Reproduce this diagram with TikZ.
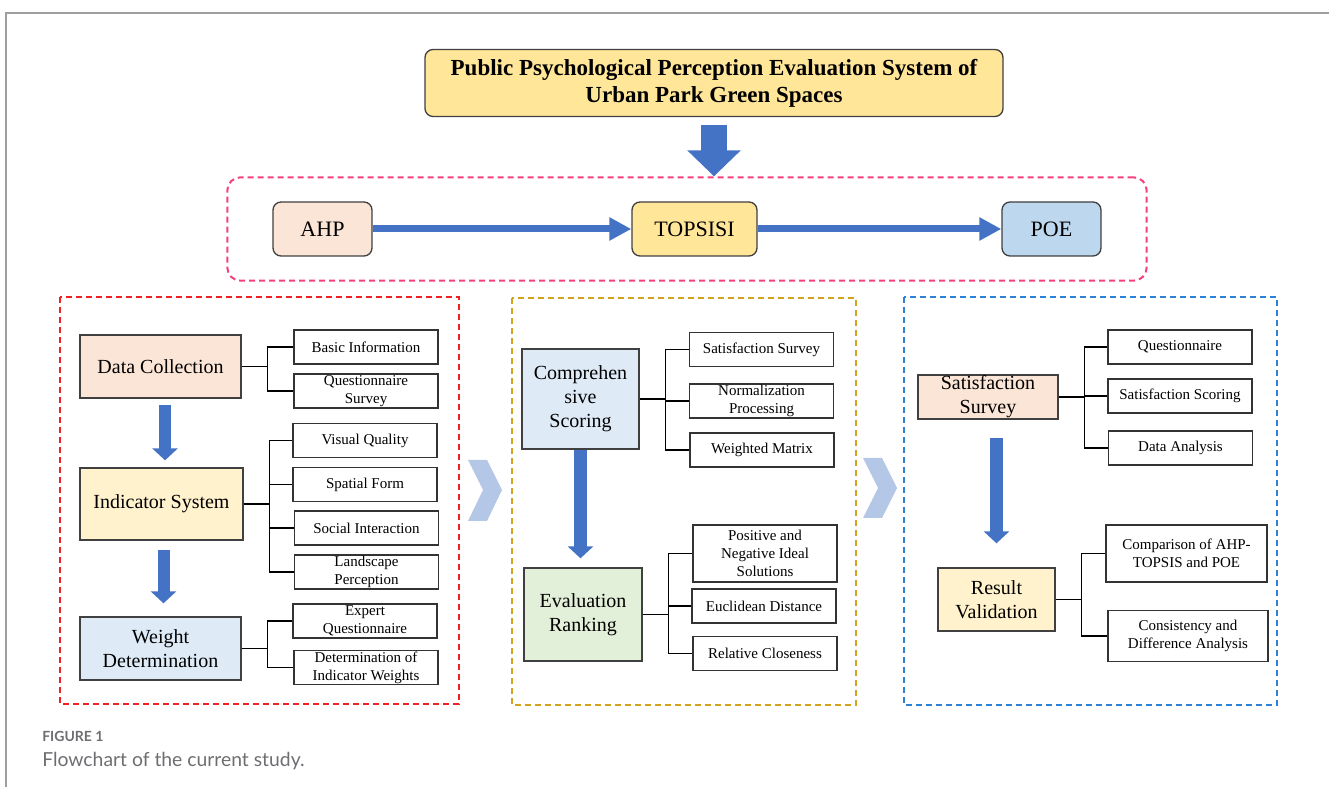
\documentclass[tikz,border=0pt]{standalone}
\usepackage{fontspec}
\setmainfont{Liberation Serif}
\newfontfamily\capfont{Lato}
\usetikzlibrary{fit,positioning,arrows.meta,calc}
\definecolor{hdyellow}{HTML}{FFE699}
\definecolor{peach}{HTML}{FBE5D6}
\definecolor{paleyellow}{HTML}{FFF2CC}
\definecolor{paleblue}{HTML}{DEEBF7}
\definecolor{midblue}{HTML}{BDD7EE}
\definecolor{palegreen}{HTML}{E2F0D9}
\definecolor{arrblue}{HTML}{4472C4}
\definecolor{chevblue}{HTML}{B4C7E7}
\definecolor{pinkline}{HTML}{F5407A}
\definecolor{redline}{HTML}{EE2222}
\definecolor{goldline}{HTML}{D4A21A}
\definecolor{blueline}{HTML}{2C82D6}
\definecolor{capgray}{HTML}{6D6E71}
\begin{document}
\begin{tikzpicture}
    [ x=0.75pt, y=-0.75pt
    , every node/.style={inner sep=0pt, align=center}
    , rbox/.style={draw=black!75, line width=1pt, rounded corners=6pt}
    , bigbox/.style={draw=black!75, line width=1pt, font=\fontsize{15}{18}\selectfont}
    , itembox/.style={draw=black!80, line width=1.1pt, fill=white, minimum width=108pt, minimum height=25.5pt, font=\fontsize{11.25}{13.5}\selectfont}
    , grp/.style={line width=1.5pt, dash pattern=on 4.5pt off 3pt}
    , link/.style={draw=black, line width=1.1pt}
    , flow/.style={draw=arrblue, line width=5.25pt, -{Triangle[width=16.5pt,length=16.5pt]}}
    , drop/.style={draw=arrblue, line width=9pt, -{Triangle[width=18.75pt,length=9pt]}}
    ]
  \useasboundingbox (0,0) rectangle (1329,787);
  \draw[gray!75, line width=1.1pt] (6,787) -- (6,13) -- (1329,13);

  \node[rbox, fill=hdyellow, minimum width=433.5pt, minimum height=50.25pt, font=\bfseries\fontsize{17.25}{20.25}\selectfont] (title) at (714,83)
    {Public Psychological Perception Evaluation System of\\Urban Park Green Spaces};
  \node[rbox, fill=peach, minimum width=74.25pt, minimum height=40.5pt, font=\fontsize{16.5}{19}\selectfont] (ahp) at (322.5,229) {AHP};
  \node[rbox, fill=hdyellow, minimum width=93.75pt, minimum height=40.5pt, font=\fontsize{16.5}{19}\selectfont] (tops) at (694.5,229) {TOPSISI};
  \node[rbox, fill=midblue, minimum width=74.25pt, minimum height=40.5pt, font=\fontsize{16.5}{19}\selectfont] (poe) at (1051.5,229) {POE};
  \node[grp, draw=pinkline, rounded corners=9.75pt, fit=(ahp)(poe), inner xsep=33.75pt, inner ysep=18pt] (method) {};
  \draw[draw=arrblue, line width=19.5pt, shorten <=5.6pt, -{Triangle[width=39pt,length=19.5pt]}] (title.south) -- (title.south |- method.north);
  \draw[flow] (ahp) -- (tops);
  \draw[flow] (tops) -- (poe);

  \draw[grp, draw=redline] (60,297) rectangle (459,704);
  \draw[grp, draw=goldline] (512,298) rectangle (856,705);
  \draw[grp, draw=blueline] (904,297) rectangle (1277,705);
  \fill[chevblue] (468,460) -- (487,460) -- (502,490) -- (487,521) -- (468,521) -- (483,490) -- cycle;
  \fill[chevblue] (863,458) -- (882,458) -- (897,488) -- (882,518) -- (863,518) -- (878,488) -- cycle;

  \node[bigbox, fill=peach, minimum width=120.75pt, minimum height=47.25pt] (dc) at (160.5,366.5) {Data Collection};
  \node[bigbox, fill=paleyellow, minimum width=122.25pt, minimum height=54pt] (is) at (161.5,504) {Indicator System};
  \node[bigbox, fill=paleblue, minimum width=120.75pt, minimum height=47.25pt] (wd) at (160.5,648.5) {Weight\\Determination};
  \node[itembox] (bi) at (366,347) {Basic Information};
  \node[itembox] (qs) at (366,391) {Questionnaire\\Survey};
  \node[itembox] (vq) at (365,440.5) {Visual Quality};
  \node[itembox] (sf) at (365,484.5) {Spatial Form};
  \node[itembox] (si) at (366.5,528) {Social Interaction};
  \node[itembox] (lp) at (366.5,572) {Landscape\\Perception};
  \node[itembox] (eq) at (365,621) {Expert\\Questionnaire};
  \node[itembox] (di) at (366,667.5) {Determination of\\Indicator Weights};
  \draw[drop, shorten <=4.5pt, shorten >=5.25pt] ([xshift=3.4pt]dc.south) -- ([xshift=3.4pt]dc.south |- is.north);
  \draw[drop, shorten <=6.75pt, shorten >=9.75pt] ([xshift=1.5pt]is.south) -- ([xshift=1.5pt]is.south |- wd.north);

  \node[bigbox, fill=paleblue, minimum width=87.75pt, minimum height=75pt] (cs) at (580.5,399) {Comprehen\\sive\\Scoring};
  \node[bigbox, fill=palegreen, minimum width=88.5pt, minimum height=69.75pt] (er) at (583,614.5) {Evaluation\\Ranking};
  \node[itembox] (sat) at (761.5,349.5) {Satisfaction Survey};
  \node[itembox] (np) at (761.5,401) {Normalization\\Processing};
  \node[itembox] (wm) at (762,450) {Weighted Matrix};
  \node[itembox, minimum height=42.75pt] (pn) at (765,553.5) {Positive and\\Negative Ideal\\Solutions};
  \node[itembox] (ed) at (764,606) {Euclidean Distance};
  \node[itembox] (rc) at (765,653.5) {Relative Closeness};
  \draw[drop, line width=9.75pt, shorten >=6.75pt] (cs.south) -- (cs.south |- er.north);

  \node[bigbox, fill=peach, minimum width=105pt, minimum height=33pt] (svy) at (988,397) {Satisfaction\\Survey};
  \node[bigbox, fill=paleyellow, minimum width=87.75pt, minimum height=47.25pt] (rv) at (996.5,599.5) {Result\\Validation};
  \node[itembox] (qn) at (1180,347) {Questionnaire};
  \node[itembox] (sco) at (1180,396) {Satisfaction Scoring};
  \node[itembox] (da) at (1180.5,448) {Data Analysis};
  \node[itembox, minimum width=120.75pt, minimum height=42.75pt] (cmp) at (1186.5,553.5) {Comparison of AHP-\\TOPSIS and POE};
  \node[itembox, minimum width=120pt, minimum height=38.25pt] (cda) at (1188,636) {Consistency and\\Difference Analysis};
  \draw[drop, line width=9.75pt, shorten <=13.5pt, shorten >=18pt] (rv.north |- svy.south) -- (rv.north);

  \foreach \src/\dst in {dc/bi, dc/qs, is/vq, is/sf, is/si, is/lp, wd/eq, wd/di, cs/sat, cs/np, cs/wm, er/pn, er/ed, er/rc, svy/qn, svy/sco, svy/da, rv/cmp, rv/cda}
    \draw[link] (\src.east) -- ++(26,0) |- (\dst.west);

  \node[anchor=base west, text=capgray, font=\capfont\bfseries\fontsize{10.5}{12}\selectfont] (fig) at (42,741) {FIGURE 1};
  \node[anchor=base west, text=capgray, font=\capfont\fontsize{14.5}{17}\selectfont] (cap) at (42,767) {Flowchart of the current study.};
\end{tikzpicture}
\end{document}
